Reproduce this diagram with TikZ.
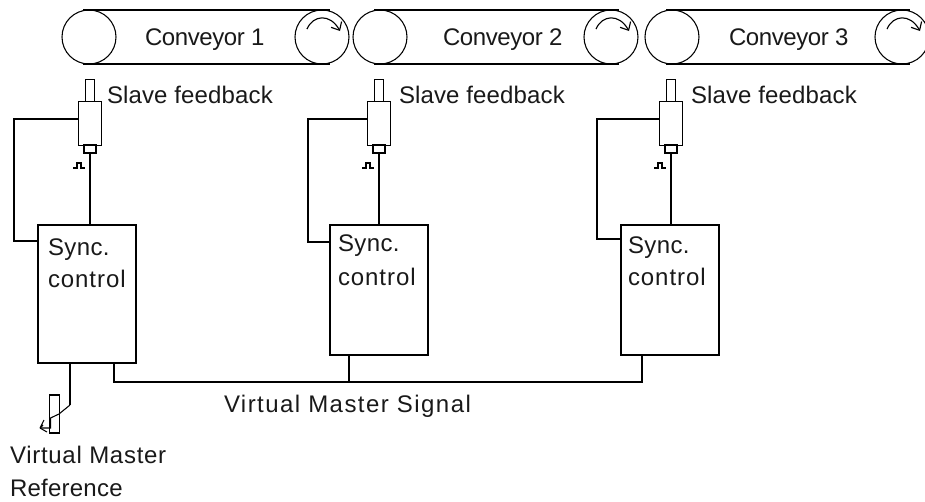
\documentclass[tikz,border=0pt]{standalone}
\usepackage{fontspec}
\setmainfont{Liberation Sans}
\usetikzlibrary{arrows.meta}
\newcommand{\spaced}[2]{{\addfontfeature{LetterSpace=#1}#2}}
\tikzset{
  wire/.style={line width=0.95pt,black},
  belt/.style={line width=0.85pt,black},
  thinwire/.style={line width=0.8pt,black},
  roller/.style={circle,draw,line width=0.8pt,minimum size=40.5pt,inner sep=0pt,outer sep=0pt},
  part/.style={rectangle,draw,line width=0.95pt,inner sep=0pt,outer sep=0pt},
  ctrl/.style={part,minimum width=73.5pt},
  lbl/.style={inner sep=0pt,outer sep=0pt,anchor=base west,font=\fontsize{18pt}{20pt}\selectfont,text=black!90},
  rot/.style={line width=0.85pt,-{Straight Barb[length=5pt,width=9pt,line width=0.85pt]}}
}
\newcommand{\conveyor}[5]{%
  \node[roller] (#1l) at (#2,37) {};
  \node[roller] (#1r) at (#3,37) {};
  \draw[belt] ([xshift=-4.5pt]#1l.north) -- ([xshift=6pt]#1r.north);
  \draw[belt] ([xshift=-4.5pt]#1l.south) -- ([xshift=6pt]#1r.south);
  \draw[rot] ([shift={(-15,-8)}]#1r.center) .. controls ([shift={(-9,-22)}]#1r.center) and ([shift={(8,-24)}]#1r.center) .. ([shift={(18,-6)}]#1r.center);
  \node[lbl] (#1t) at (#4,45.5) {\spaced{-1.7}{#5}};
}
\newcommand{\sensor}[3]{% name, axis x, label x
  \node[part,minimum width=7pt,minimum height=17pt] (#1shaft) at (#2,90.5) {};
  \node[part,minimum width=17.5pt,minimum height=32.5pt] (#1body) at (#2,123.5) {};
  \node[part,minimum width=9pt,minimum height=6pt] (#1end) at (#2,149) {};
  \node[lbl] (#1t) at (#3,103.5) {\spaced{0.6}{Slave feedback}};
  \coordinate (#1pa) at ({#2-17},168);
  \draw[thinwire] (#1pa) -- ++(4,0) -- ++(0,-5) -- ++(4,0) -- ++(0,5) -- ++(4,0);
}
\begin{document}
\begin{tikzpicture}[x=0.75pt,y=-0.75pt]
\useasboundingbox (0,0) rectangle (925,501);
\conveyor{ca}{89}{322}{145}{Conveyor 1}
\conveyor{cb}{380}{611}{443}{Conveyor 2}
\conveyor{cc}{672}{902}{729}{Conveyor 3}
\sensor{sa}{90}{107}
\sensor{sb}{379}{399}
\sensor{sc}{671}{691}
% control boxes
\node[ctrl,minimum height=103.5pt] (ba) at (87,294) {};
\node[ctrl,minimum height=97.5pt] (bb) at (379,290) {};
\node[ctrl,minimum height=97.5pt] (bc) at (670,290) {};
\node[lbl] (bat) at (48,255.5) {\spaced{1.7}{Sync.}};
\node[lbl] (bau) at (48,287) {\spaced{3.9}{control}};
\node[lbl] (bbt) at (338,251.5) {\spaced{1.7}{Sync.}};
\node[lbl] (bbu) at (338,285) {\spaced{3.9}{control}};
\node[lbl] (bct) at (628,253.5) {\spaced{1.7}{Sync.}};
\node[lbl] (bcu) at (628,285) {\spaced{3.9}{control}};
% sensor to box
\draw[wire] (saend.south) -- (ba.north -| saend.south);
\draw[wire] (sbend.south) -- (bb.north -| sbend.south);
\draw[wire] (scend.south) -- (bc.north -| scend.south);
% feedback loops
\coordinate (fa) at (14,119);
\coordinate (fb) at (308,119);
\coordinate (fc) at (597,119);
\draw[wire] (sabody.west |- fa) -- (fa) -- (fa |- 0,241) -- (ba.west |- 0,241);
\draw[wire] (sbbody.west |- fb) -- (fb) -- (fb |- 0,242) -- (bb.west |- 0,242);
\draw[wire] (scbody.west |- fc) -- (fc) -- (fc |- 0,239) -- (bc.west |- 0,239);
% bus
\coordinate (busa) at (114,382);
\coordinate (busc) at (642,382);
\coordinate (busb) at (349,382);
\draw[wire] (ba.south -| busa) -- (busa) -- (busc) -- (bc.south -| busc);
\draw[wire] (busb) -- (bb.south -| busb);
\node[lbl] (vms) at (224,412) {\spaced{6}{Virtual Master Signal}};
% potentiometer
\node[part,line width=0.85pt,minimum width=7.5pt,minimum height=28.5pt] (pot) at (54.5,414) {};
\coordinate (wa) at (70,405);
\coordinate (wb) at (59,414);
\coordinate (wc) at (50.5,418);
\coordinate (wd) at (50.5,428);
\coordinate (we) at (40,428);
\draw[wire] (ba.south -| wa) -- (wa);
\draw[thinwire] (wa) -- (wb) -- (wc) -- (wd) -- (we);
\draw[thinwire] (we) -- (44,420) (we) -- (47,432) (we) -- (43,425);
\node[lbl] (vma) at (10,463) {\spaced{3}{Virtual Master}};
\node[lbl] (vmb) at (10,496) {\spaced{1}{Reference}};
\end{tikzpicture}
\end{document}
